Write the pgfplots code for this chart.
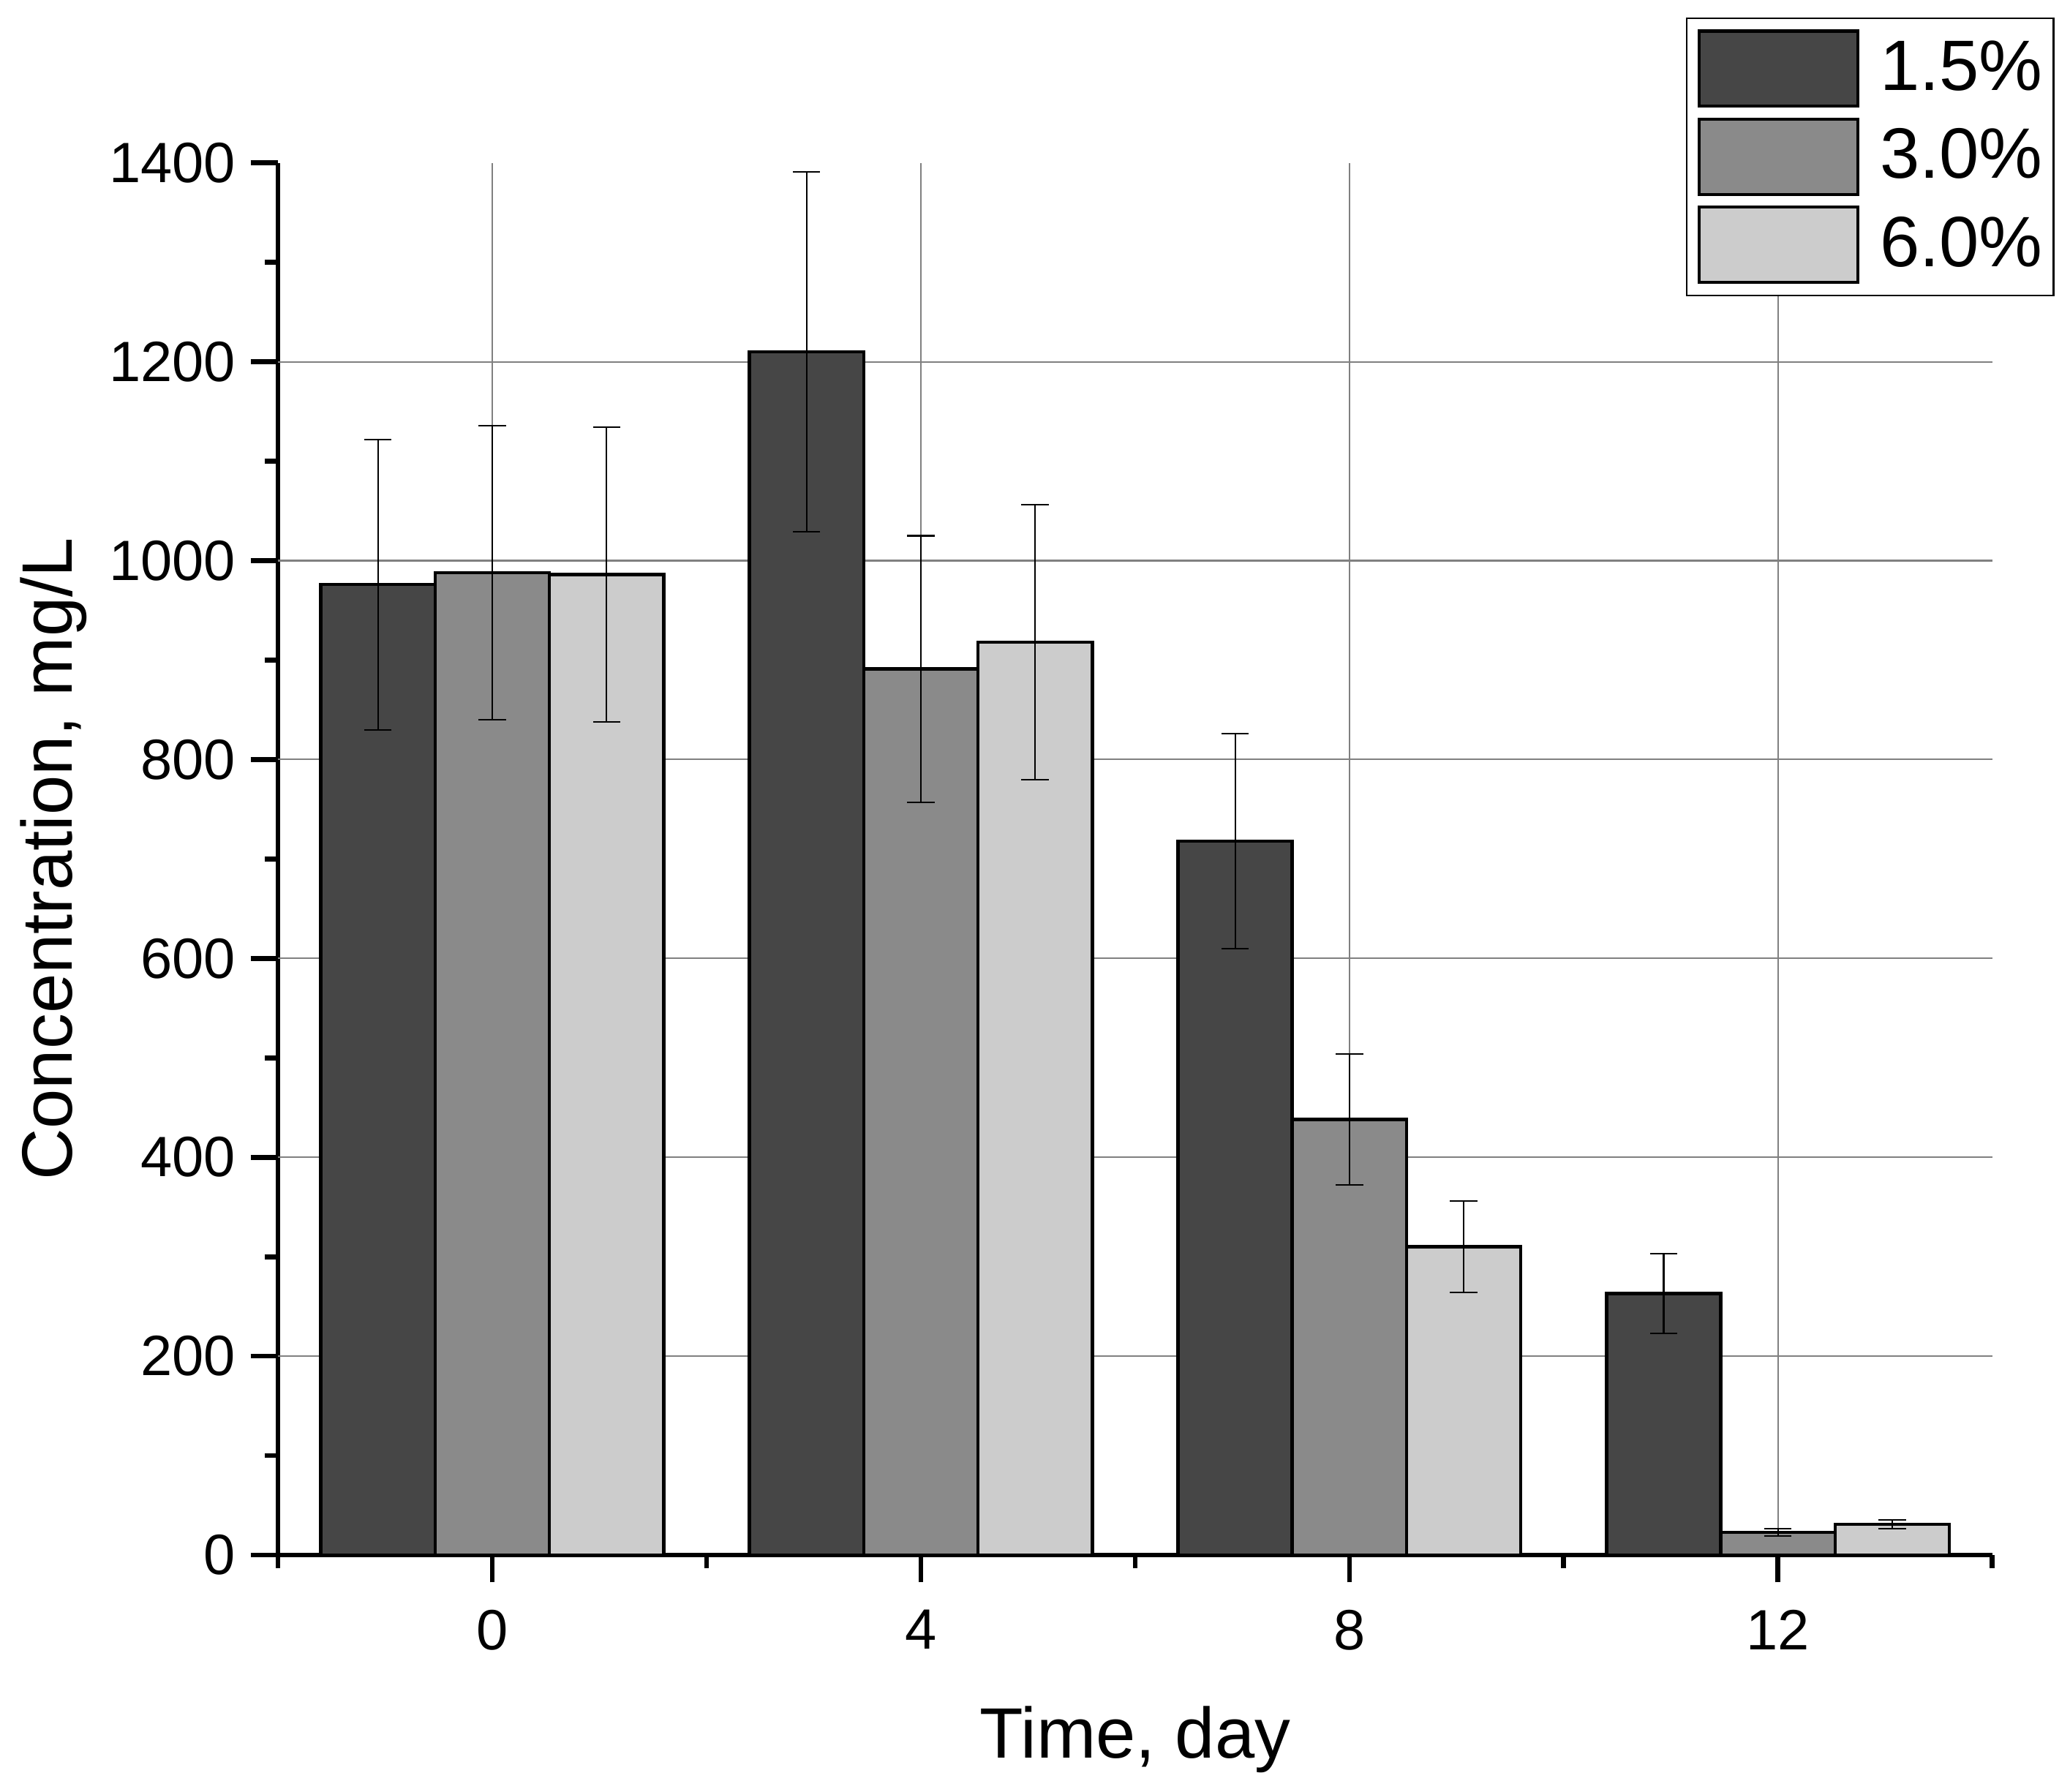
\documentclass[border=0pt]{standalone}
\usepackage{fontspec}
\setmainfont{Liberation Sans}
\usepackage{pgfplots}
\pgfplotsset{compat=1.18}
\definecolor{cA}{RGB}{70,70,70}
\definecolor{cB}{RGB}{138,138,138}
\definecolor{cC}{RGB}{204,204,204}
\definecolor{gridgray}{RGB}{128,128,128}
\pgfplotsset{
  mylegend/.style={legend image code/.code={\draw[##1, line width=0.7pt, draw=black] (0pt,-8.52pt) rectangle (36pt,8.52pt);}},
  mybar/.style={ybar, bar width=1.0667, bar shift=0pt, draw=black, line width=0.75pt, mylegend,
    error bars/y dir=both, error bars/y explicit,
    error bars/error bar style={line width=0.35pt, black, solid},
    error bars/error mark options={black, line width=0.35pt, mark size=3.1pt, solid, rotate=90}},
}
\begin{document}
\begin{tikzpicture}
\begin{axis}[
  at={(0,0)}, anchor=south west,
  scale only axis, width=389.1pt, height=316.0pt,
  xmin=-2, xmax=14, ymin=0, ymax=1400,
  axis lines*=left,
  axis line style={line width=1.1pt, -, black},
  xtick={0,4,8,12}, minor xtick={-2,2,6,10,14},
  ytick={0,200,400,600,800,1000,1200,1400},
  minor ytick={100,300,500,700,900,1100,1300},
  tick align=outside,
  major tick length=6.2pt, minor tick length=3pt,
  major tick style={line width=1.1pt, black},
  minor tick style={line width=1.1pt, black},
  xmajorgrids=true,
  grid style={line width=0.35pt, gridgray},
  extra y ticks={200,400,600,800,1000,1200},
  extra y tick labels={},
  extra y tick style={ymajorgrids=true, major tick length=0pt},
  /pgf/number format/assume math mode=true,
  /pgf/number format/1000 sep={},
  scaled y ticks=false,
  ticklabel style={font=\fontsize{12.9}{15}\selectfont},
  yticklabel style={anchor=east, inner sep=0pt, xshift=-3.2pt},
  xticklabel style={anchor=north, inner sep=0pt, yshift=-6pt},
  xlabel={Time, day},
  ylabel={Concentration, mg/L},
  label style={font=\fontsize{16.2}{19}\selectfont},
  xlabel style={at={(axis description cs:0.5,-0.14557)}, anchor=base},
  ylabel style={at={(axis description cs:-0.12028,0.5)}, anchor=base},
  legend cell align=left,
  legend style={at={(1.0362,1.1045)}, anchor=north east, draw=black, line width=0.35pt, fill=white,
    inner xsep=2.5pt, inner ysep=2.6pt, row sep=2.25pt, column sep=4.7pt,
    nodes={inner sep=0pt}, font=\fontsize{16.2}{19}\selectfont},
]
\addplot[mybar, fill=cA] coordinates {
  (-1.0667,976) +- (0,146)
  (2.9333,1210) +- (0,181)
  (6.9333,718) +- (0,108)
  (10.9333,263) +- (0,40)
};
\addlegendentry{1.5\%}
\addplot[mybar, fill=cB] coordinates {
  (0,988) +- (0,148)
  (4,891) +- (0,134)
  (8,438) +- (0,66)
  (12,23) +- (0,3.5)
};
\addlegendentry{3.0\%}
\addplot[mybar, fill=cC] coordinates {
  (1.0667,986) +- (0,148)
  (5.0667,918) +- (0,138)
  (9.0667,310) +- (0,46)
  (13.0667,31) +- (0,4.3)
};
\addlegendentry{6.0\%}
\end{axis}
\pgfresetboundingbox
\path[use as bounding box] (-63.09pt,-53.77pt) rectangle (406.75pt,352.97pt);
\end{tikzpicture}
\end{document}
